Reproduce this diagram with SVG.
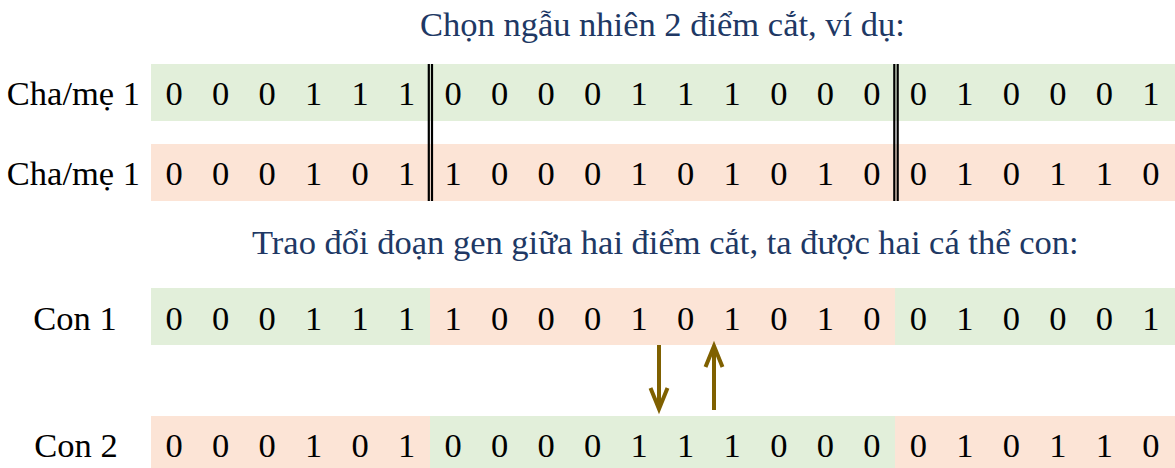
<svg xmlns="http://www.w3.org/2000/svg" width="1175" height="468" viewBox="0 0 1175 468" font-family="Liberation Serif, serif" font-size="34.5">
  <style>
    text { fill: #000; }
    .title { fill: #203864; }
    .bit { text-anchor: middle; }
    .lbl-end { text-anchor: end; }
    .lbl-mid { text-anchor: middle; }
    .g { fill: #E2EFDA; }
    .r { fill: #FCE4D6; }
    .cut { stroke: #000; stroke-width: 2.2; }
    .swap { stroke: #7F6000; stroke-width: 4; fill: none; stroke-linecap: butt; stroke-linejoin: miter; }
  </style>

  <!-- headings -->
  <text id="title-cut" class="title" x="420" y="36">Chọn ngẫu nhiên 2 điểm cắt, ví dụ:</text>
  <text id="title-swap" class="title" x="252" y="254">Trao đổi đoạn gen giữa hai điểm cắt, ta được hai cá thể con:</text>

  <!-- parent 1 -->
  <g id="parent1">
    <rect class="g" x="151" y="64" width="1024" height="57"/>
    <text class="lbl-end" x="140" y="105">Cha/mẹ 1</text>
    <g class="bit">
      <text x="174" y="105">0</text><text x="220.5" y="105">0</text><text x="267" y="105">0</text>
      <text x="313.6" y="105">1</text><text x="360.1" y="105">1</text><text x="406.6" y="105">1</text>
      <text x="453.1" y="105">0</text><text x="499.6" y="105">0</text><text x="546.2" y="105">0</text>
      <text x="592.7" y="105">0</text><text x="639.2" y="105">1</text><text x="685.7" y="105">1</text>
      <text x="732.2" y="105">1</text><text x="778.8" y="105">0</text><text x="825.3" y="105">0</text>
      <text x="871.8" y="105">0</text><text x="918.3" y="105">0</text><text x="964.8" y="105">1</text>
      <text x="1011.4" y="105">0</text><text x="1057.9" y="105">0</text><text x="1104.4" y="105">0</text>
      <text x="1150.9" y="105">1</text>
    </g>
  </g>

  <!-- parent 2 -->
  <g id="parent2">
    <rect class="r" x="151" y="144" width="1024" height="57"/>
    <text class="lbl-end" x="140" y="185">Cha/mẹ 1</text>
    <g class="bit">
      <text x="174" y="185">0</text><text x="220.5" y="185">0</text><text x="267" y="185">0</text>
      <text x="313.6" y="185">1</text><text x="360.1" y="185">0</text><text x="406.6" y="185">1</text>
      <text x="453.1" y="185">1</text><text x="499.6" y="185">0</text><text x="546.2" y="185">0</text>
      <text x="592.7" y="185">0</text><text x="639.2" y="185">1</text><text x="685.7" y="185">0</text>
      <text x="732.2" y="185">1</text><text x="778.8" y="185">0</text><text x="825.3" y="185">1</text>
      <text x="871.8" y="185">0</text><text x="918.3" y="185">0</text><text x="964.8" y="185">1</text>
      <text x="1011.4" y="185">0</text><text x="1057.9" y="185">1</text><text x="1104.4" y="185">1</text>
      <text x="1150.9" y="185">0</text>
    </g>
  </g>

  <!-- cut points (double rules) -->
  <g id="cut-points">
    <line class="cut" x1="428.8" y1="64" x2="428.8" y2="201"/>
    <line class="cut" x1="432" y1="64" x2="432" y2="201"/>
    <line class="cut" x1="894.3" y1="64" x2="894.3" y2="201"/>
    <line class="cut" x1="897.7" y1="64" x2="897.7" y2="201"/>
  </g>

  <!-- child 1 -->
  <g id="child1">
    <rect class="g" x="151" y="288" width="279" height="57"/>
    <rect class="r" x="430" y="288" width="465" height="57"/>
    <rect class="g" x="895" y="288" width="280" height="57"/>
    <text class="lbl-mid" x="75" y="330">Con 1</text>
    <g class="bit">
      <text x="174" y="330">0</text><text x="220.5" y="330">0</text><text x="267" y="330">0</text>
      <text x="313.6" y="330">1</text><text x="360.1" y="330">1</text><text x="406.6" y="330">1</text>
      <text x="453.1" y="330">1</text><text x="499.6" y="330">0</text><text x="546.2" y="330">0</text>
      <text x="592.7" y="330">0</text><text x="639.2" y="330">1</text><text x="685.7" y="330">0</text>
      <text x="732.2" y="330">1</text><text x="778.8" y="330">0</text><text x="825.3" y="330">1</text>
      <text x="871.8" y="330">0</text><text x="918.3" y="330">0</text><text x="964.8" y="330">1</text>
      <text x="1011.4" y="330">0</text><text x="1057.9" y="330">0</text><text x="1104.4" y="330">0</text>
      <text x="1150.9" y="330">1</text>
    </g>
  </g>

  <!-- child 2 -->
  <g id="child2">
    <rect class="r" x="151" y="416" width="279" height="52"/>
    <rect class="g" x="430" y="416" width="465" height="52"/>
    <rect class="r" x="895" y="416" width="280" height="52"/>
    <text class="lbl-mid" x="76" y="457">Con 2</text>
    <g class="bit">
      <text x="174" y="457">0</text><text x="220.5" y="457">0</text><text x="267" y="457">0</text>
      <text x="313.6" y="457">1</text><text x="360.1" y="457">0</text><text x="406.6" y="457">1</text>
      <text x="453.1" y="457">0</text><text x="499.6" y="457">0</text><text x="546.2" y="457">0</text>
      <text x="592.7" y="457">0</text><text x="639.2" y="457">1</text><text x="685.7" y="457">1</text>
      <text x="732.2" y="457">1</text><text x="778.8" y="457">0</text><text x="825.3" y="457">0</text>
      <text x="871.8" y="457">0</text><text x="918.3" y="457">0</text><text x="964.8" y="457">1</text>
      <text x="1011.4" y="457">0</text><text x="1057.9" y="457">1</text><text x="1104.4" y="457">1</text>
      <text x="1150.9" y="457">0</text>
    </g>
  </g>

  <!-- exchange arrows between the two offspring -->
  <g id="connectors">
    <path class="swap" d="M659 345 V408"/>
    <path class="swap" d="M650.5 388 L659 409 L667.5 388"/>
    <path class="swap" d="M714 410 V347"/>
    <path class="swap" d="M705.5 367 L714 346 L722.5 367"/>
  </g>
</svg>
